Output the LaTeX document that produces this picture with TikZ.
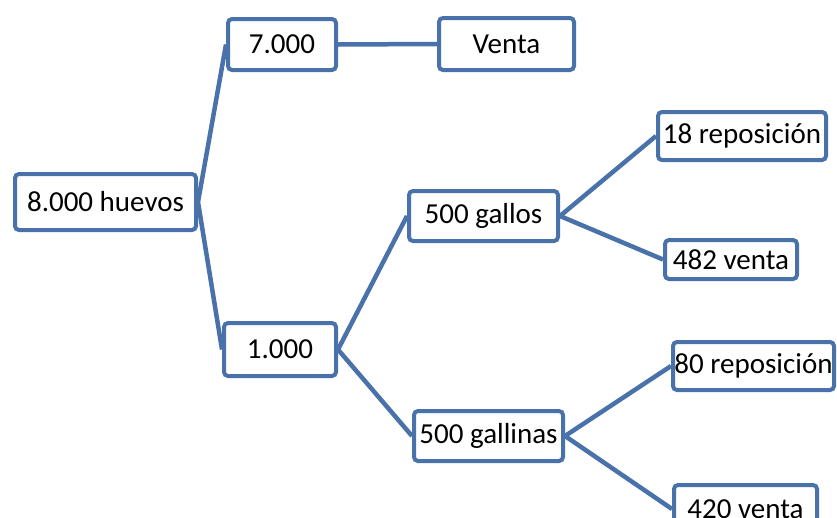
\documentclass[tikz,border=0pt]{standalone}
\usepackage{fontspec}
\setmainfont{Carlito}
\definecolor{boxblue}{RGB}{74,114,170}
\pgfdeclarelayer{background}
\pgfsetlayers{background,main}
\tikzset{
  bx/.style={draw=boxblue, line width=4pt, rounded corners=4pt, fill=white,
    inner sep=0pt, font=\fontsize{29}{32}\selectfont, anchor=center},
  cn/.style={draw=boxblue, line width=4.5pt}
}
\begin{document}
\begin{tikzpicture}[x=1pt,y=-1pt]
\clip (0,0) rectangle (837,517);
\node[bx, minimum width=181pt, minimum height=56pt] (hue) at (105.5,202) {8.000 huevos};
\node[bx, minimum width=108pt, minimum height=51pt] (n7) at (282,44.5) {7.000};
\node[bx, minimum width=135pt, minimum height=52pt] (ven) at (506.5,44) {Venta};
\node[bx, minimum width=112pt, minimum height=53pt] (n1) at (280,349.5) {1.000};
\node[bx, minimum width=149pt, minimum height=50pt] (gal) at (483.5,216) {500 gallos};
\node[bx, minimum width=149pt, minimum height=50pt] (gna) at (488.5,436) {500 gallinas};
\node[bx, minimum width=168pt, minimum height=48pt] (r18) at (742,136) {18 reposición};
\node[bx, minimum width=132pt, minimum height=39pt] (v482) at (731,259.5) {482 venta};
\node[bx, minimum width=161pt, minimum height=48pt] (r80) at (753.5,366) {80 reposición};
\node[bx, minimum width=143pt, minimum height=48pt] (v420) at (745.5,509) {420 venta};
\begin{pgfonlayer}{background}
\fill[white] (0,0) rectangle (837,517);
\draw[cn] (hue.east) -- (n7.west);
\draw[cn] (hue.east) -- (n1.west);
\draw[cn] (n7.east) -- (ven.west);
\draw[cn] (n1.east) -- (gal.west);
\draw[cn] (n1.east) -- (gna.west);
\draw[cn] (gal.east) -- (r18.west);
\draw[cn] (gal.east) -- (v482.west);
\draw[cn] (gna.east) -- (r80.west);
\draw[cn] (gna.east) -- (v420.west);
\end{pgfonlayer}
\end{tikzpicture}
\end{document}
